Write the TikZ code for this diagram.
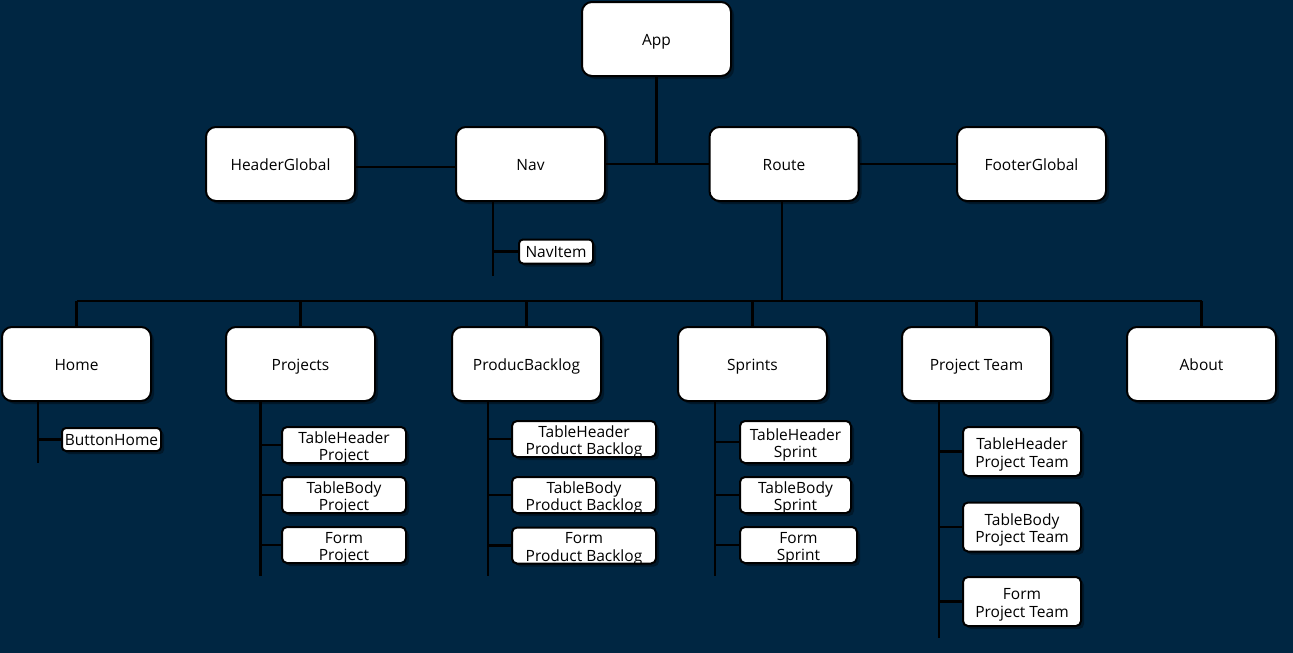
\documentclass[tikz,border=0pt]{standalone}
\usepackage{fontspec}
\setmainfont{Open Sans}
\usetikzlibrary{shadows}
\definecolor{bgnavy}{RGB}{0,38,66}
\tikzset{
  boxshadow/.style={drop shadow={shadow xshift=3pt, shadow yshift=-3pt, fill=black, opacity=0.35}},
  comp/.style={draw=black, line width=2pt, fill=white, rounded corners=10pt,
    minimum width=149pt, minimum height=74pt, inner sep=0pt,
    font=\fontsize{15.5}{18}\selectfont, text=black,
    text height=13pt, text depth=0pt, boxshadow},
  sub/.style={draw=black, line width=2pt, fill=white, rounded corners=5pt,
    inner sep=0pt, align=center, text=black,
    font=\fontsize{15.5}{17.5}\selectfont,
    text height=31.3pt, text depth=0pt, boxshadow},
  tag/.style={draw=black, line width=2pt, fill=white, rounded corners=4pt,
    inner sep=0pt, text=black, font=\fontsize{15.5}{17.5}\selectfont,
    text height=12.5pt, text depth=0pt, boxshadow},
  link/.style={draw=black, line width=2.5pt}
}
\begin{document}
\begin{tikzpicture}[x=1pt,y=-1pt]
\fill[bgnavy] (0,0) rectangle (1293,653);
\useasboundingbox (0,0) rectangle (1293,653);

% ---- top levels
\node[comp] (app) at (656.5,39) {App};
\node[comp] (head) at (280.5,164) {HeaderGlobal};
\node[comp] (nav) at (530.5,164) {Nav};
\node[comp] (route) at (784,164) {Route};
\node[comp] (foot) at (1031.5,164) {FooterGlobal};

% ---- pages
\node[comp] (home) at (76.5,364) {Home};
\node[comp] (proj) at (300.5,364) {Projects};
\node[comp] (pb) at (526.5,364) {ProducBacklog};
\node[comp] (spr) at (752.5,364) {Sprints};
\node[comp] (team) at (976.5,364) {Project Team};
\node[comp] (about) at (1201.5,364) {About};

% ---- sub components
\node[tag, minimum width=74pt, minimum height=24pt] (navitem) at (556,251.5) {NavItem};
\node[tag, minimum width=99pt, minimum height=23pt] (bhome) at (111.5,439.5) {ButtonHome};

\node[sub, minimum width=124pt, minimum height=36pt] (pj1) at (344,445) {TableHeader\\Project};
\node[sub, minimum width=124pt, minimum height=36pt] (pj2) at (344,495) {TableBody\\Project};
\node[sub, minimum width=124pt, minimum height=36pt] (pj3) at (344,545) {Form\\Project};

\node[sub, minimum width=144pt, minimum height=36pt] (pb1) at (584,439) {TableHeader\\Product Backlog};
\node[sub, minimum width=144pt, minimum height=36pt] (pb2) at (584,495) {TableBody\\Product Backlog};
\node[sub, minimum width=144pt, minimum height=36pt] (pb3) at (584,545.5) {Form\\Product Backlog};

\node[sub, minimum width=111pt, minimum height=42pt] (sp1) at (795.5,442) {TableHeader\\Sprint};
\node[sub, minimum width=111pt, minimum height=36pt] (sp2) at (795.5,495) {TableBody\\Sprint};
\node[sub, minimum width=117pt, minimum height=36pt] (sp3) at (798.5,545) {Form\\Sprint};

\node[sub, minimum width=118pt, minimum height=49pt] (tm1) at (1022,451.5) {TableHeader\\Project Team};
\node[sub, minimum width=118pt, minimum height=49pt] (tm2) at (1022,527) {TableBody\\Project Team};
\node[sub, minimum width=118pt, minimum height=49pt] (tm3) at (1022,601.5) {Form\\Project Team};

% ---- trunk coordinates
\coordinate (bus) at (77,301);
\coordinate (busend) at (1202,301);
\coordinate (navT) at (493,276);
\coordinate (homeT) at (38,463);
\coordinate (projT) at (260.5,576);
\coordinate (pbT) at (488,576);
\coordinate (sprT) at (715,576);
\coordinate (teamT) at (939,638);

% ---- connectors: top
\draw[link] (app.south) -- (app.south |- route.west);
\draw[link] (nav.east) -- (route.west);
\draw[link] ([yshift=-3pt]head.east) -- ([yshift=-3pt]nav.west);
\draw[link] (route.east) -- (foot.west);

% Nav children
\draw[link] (nav.south -| navT) -- (navT);
\draw[link] (navitem.west) -- (navitem.west -| navT);

% Route bus
\draw[link] ([xshift=-2pt]route.south) -- ([xshift=-2pt]route.south |- bus);
\draw[link] (bus) -- (busend);
\foreach \p in {home,proj,pb,spr,team,about}
  \draw[link] (\p.north) -- (\p.north |- bus);

% page children
\draw[link] (home.south -| homeT) -- (homeT);
\draw[link] (bhome.west) -- (bhome.west -| homeT);

\draw[link] (proj.south -| projT) -- (projT);
\foreach \c in {pj1,pj2,pj3} \draw[link] (\c.west) -- (\c.west -| projT);

\draw[link] (pb.south -| pbT) -- (pbT);
\foreach \c in {pb1,pb2,pb3} \draw[link] (\c.west) -- (\c.west -| pbT);

\draw[link] (spr.south -| sprT) -- (sprT);
\foreach \c in {sp1,sp2,sp3} \draw[link] (\c.west) -- (\c.west -| sprT);

\draw[link] (team.south -| teamT) -- (teamT);
\foreach \c in {tm1,tm2,tm3} \draw[link] (\c.west) -- (\c.west -| teamT);
\end{tikzpicture}
\end{document}
